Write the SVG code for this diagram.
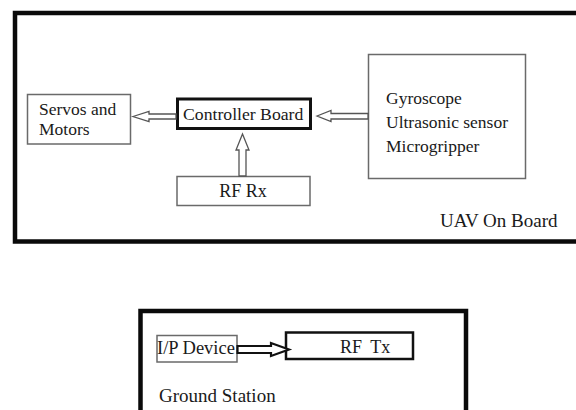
<svg xmlns="http://www.w3.org/2000/svg" width="576" height="410" viewBox="0 0 576 410">
<style>
  .t{font-family:"Liberation Serif","Times New Roman",serif;fill:#1a1a1a}
  .thin{fill:#fff;stroke:#6a6a6a;stroke-width:1.5}
  .outer{fill:none;stroke:#0a0a0a;stroke-width:4.5}
  .harrow{fill:#fff;stroke:#555;stroke-width:1.3;stroke-linejoin:miter}
</style>
<rect width="576" height="410" fill="#fff"/>
<g id="uav-onboard">
  <rect class="outer" x="15" y="13" width="572" height="228.5"/>
  <text class="t" x="440" y="227" font-size="19">UAV On Board</text>
</g>
<g id="servos">
  <rect class="thin" x="27.5" y="94.5" width="103" height="49.5"/>
  <text class="t" x="39" y="115" font-size="17.5">Servos and</text>
  <text class="t" x="39" y="135" font-size="17.5">Motors</text>
</g>
<g id="controller">
  <rect x="177.5" y="99" width="133" height="29.5" fill="#fff" stroke="#111" stroke-width="3"/>
  <text class="t" x="183" y="120" font-size="17.7">Controller Board</text>
</g>
<g id="sensors">
  <rect class="thin" x="368.5" y="54.5" width="157" height="124"/>
  <text class="t" x="386" y="104" font-size="17.5">Gyroscope</text>
  <text class="t" x="386" y="128" font-size="17.5">Ultrasonic sensor</text>
  <text class="t" x="386" y="152" font-size="17.5">Microgripper</text>
</g>
<g id="rf-rx">
  <rect class="thin" x="177" y="176.5" width="133" height="29"/>
  <text class="t" x="243" y="197" font-size="18" text-anchor="middle">RF Rx</text>
</g>
<g id="ground-station">
  <rect class="outer" x="140.5" y="311" width="325.5" height="110" stroke-width="4"/>
  <text class="t" x="159" y="402" font-size="19">Ground Station</text>
</g>
<g id="ip-device">
  <rect class="thin" x="157" y="335.5" width="80" height="26.5"/>
  <text class="t" x="157" y="354" font-size="18.5">I/P Device</text>
</g>
<g id="rf-tx">
  <rect x="286" y="332.5" width="127" height="26.5" fill="#fff" stroke="#111" stroke-width="2.5"/>
  <text class="t" x="340" y="353" font-size="18" word-spacing="4">RF Tx</text>
</g>
<g id="connectors">
  <polygon class="harrow" points="133,116.5 149,111.5 149,114 176,114 176,119 149,119 149,121.5"/>
  <polygon class="harrow" points="317,116 331,110.5 331,113.5 368,113.5 368,119 331,119 331,121.5"/>
  <polygon class="harrow" points="242.5,134 249,150 246,150 246,176 239,176 239,150 236,150"/>
  <polygon points="289,349.5 271,343 271,346 237.5,346 237.5,353 271,353 271,356" fill="#fff" stroke="#111" stroke-width="2.2"/>
</g>
</svg>
